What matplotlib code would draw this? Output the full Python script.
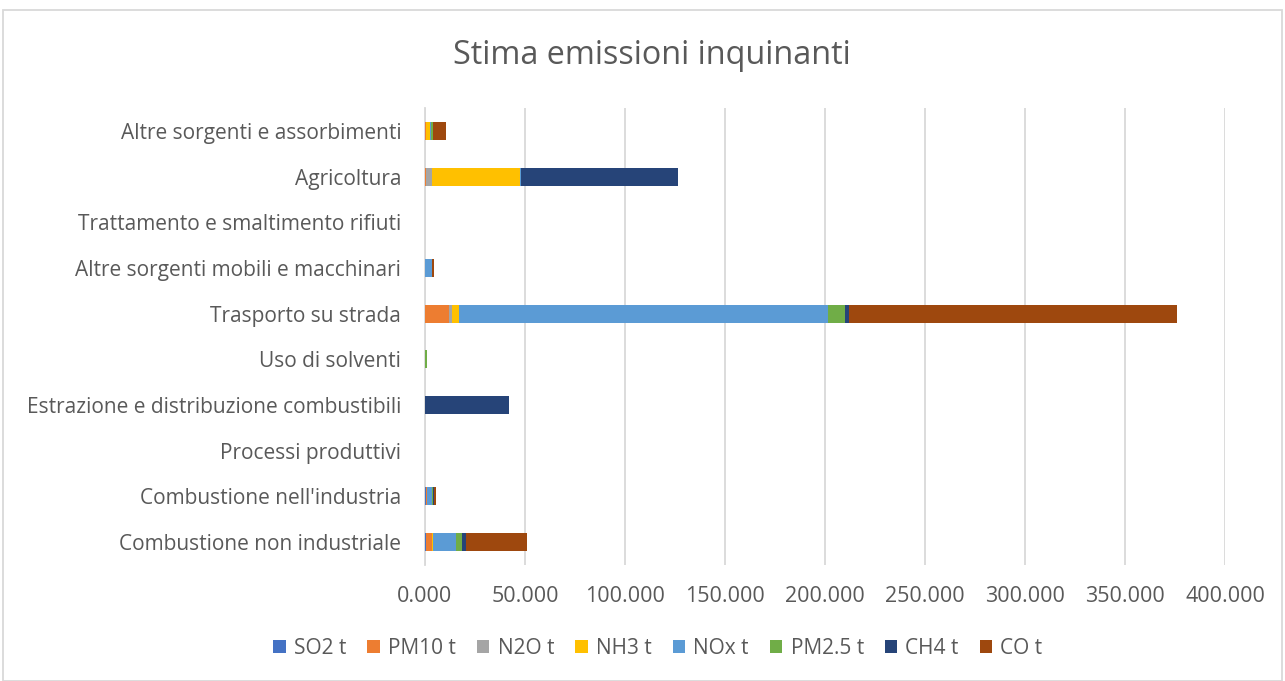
import matplotlib
matplotlib.use("Agg")
import matplotlib.pyplot as plt
from matplotlib.patches import Rectangle
from matplotlib.ticker import FuncFormatter
import numpy as np

plt.rcParams['font.family'] = ['Open Sans', 'DejaVu Sans']

# Emission sources (bottom to top on the chart)
categories = [
    "Combustione non industriale",
    "Combustione nell'industria",
    "Processi produttivi",
    "Estrazione e distribuzione combustibili",
    "Uso di solventi",
    "Trasporto su strada",
    "Altre sorgenti mobili e macchinari",
    "Trattamento e smaltimento rifiuti",
    "Agricoltura",
    "Altre sorgenti e assorbimenti",
]

# Estimated emissions in tonnes per pollutant, one value per category
so2_t  = [300,   300,  20,   0,     0,    100,    50,   0,   0,     0]
pm10_t = [3000,  500,  60,   0,     0,    11800,  200,  0,   300,   700]
n2o_t  = [200,   100,  20,   0,     0,    1800,   0,    60,  3000,  0]
nh3_t  = [700,   0,    0,    0,     0,    3300,   0,    60,  44200, 1600]
nox_t  = [11200, 2800, 40,   0,     0,    184500, 3200, 0,   600,   600]
pm25_t = [3300,  500,  40,   0,     1000, 8700,   0,    0,   0,     900]
ch4_t  = [2000,  100,  0,    41900, 0,    2000,   0,    0,   78300, 0]
co_t   = [30300, 1300, 0,    0,     0,    163700, 1000, 0,   0,     6700]

series_names = ["SO2 t", "PM10 t", "N2O t", "NH3 t", "NOx t", "PM2.5 t", "CH4 t", "CO t"]
series_values = [so2_t, pm10_t, n2o_t, nh3_t, nox_t, pm25_t, ch4_t, co_t]
series_colors = ["#4472C4", "#ED7D31", "#A5A5A5", "#FFC000",
                 "#5B9BD5", "#70AD47", "#264478", "#9E480E"]

text_color = "#595959"
grid_color = "#D9D9D9"

fig = plt.figure(figsize=(12.85, 6.81), dpi=100)
ax = fig.add_axes([0.3307, 0.1706, 0.6226, 0.6705])

y = np.arange(len(categories))
left = np.zeros(len(categories))
for name, vals, col in zip(series_names, series_values, series_colors):
    vals = np.array(vals, dtype=float)
    ax.barh(y, vals, left=left, height=0.4, color=col, label=name, zorder=3)
    left += vals

ax.set_xlim(0, 400000)
ax.set_ylim(-0.5, len(categories) - 0.5)
ax.set_xticks(np.arange(0, 400001, 50000))
ax.xaxis.set_major_formatter(FuncFormatter(lambda v, p: f"{v/1000:.3f}"))
ax.set_yticks(y)
ax.set_yticklabels(categories)

ax.grid(axis='x', color=grid_color, linewidth=1.3, zorder=0)
for s in ["top", "right", "bottom"]:
    ax.spines[s].set_visible(False)
ax.spines["left"].set_color(grid_color)
ax.spines["left"].set_linewidth(1.3)
ax.tick_params(axis='both', length=0, colors=text_color)
ax.tick_params(axis='y', labelsize=15, pad=17)
ax.tick_params(axis='x', labelsize=15.5, pad=15)

fig.text(652 / 1285, 1 - 55 / 681, "Stima emissioni inquinanti",
         ha='center', va='center', fontsize=23.3, color=text_color)

fig.legend(loc='center', bbox_to_anchor=(658 / 1285, 1 - 648 / 681), ncol=8,
           frameon=False, fontsize=15, labelcolor=text_color,
           handlelength=0.6, handleheight=0.6, handletextpad=0.4,
           columnspacing=1.0)

fig.patches.append(Rectangle((3 / 1285, 0), 1279 / 1285, 1 - 10 / 681,
                             transform=fig.transFigure, fill=False,
                             edgecolor=grid_color, linewidth=1.3))

fig.savefig("out.png", dpi=100, facecolor="white")
